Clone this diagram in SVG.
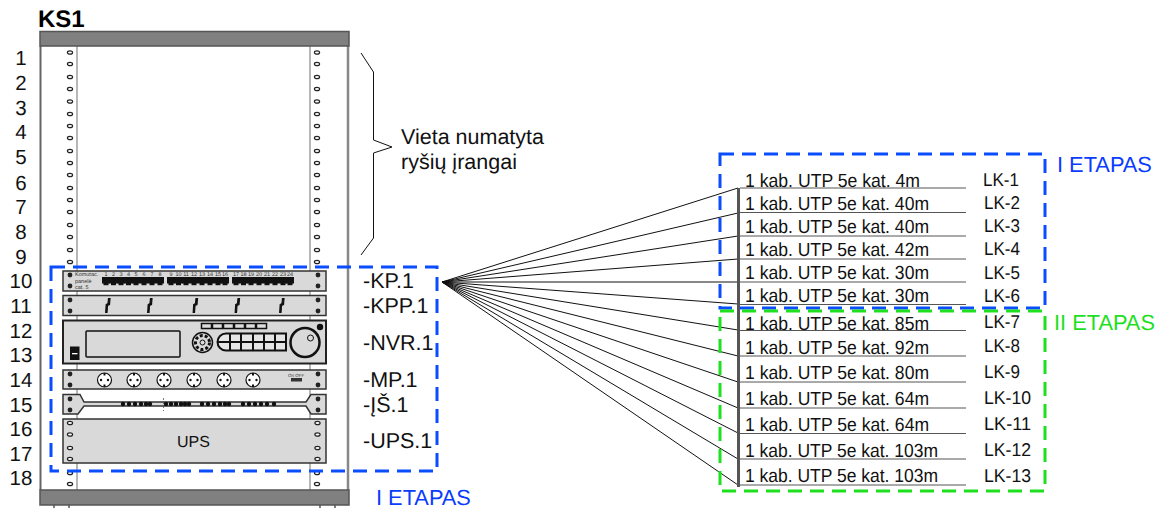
<svg xmlns="http://www.w3.org/2000/svg" xmlns:xlink="http://www.w3.org/1999/xlink" width="1171" height="508" viewBox="0 0 1171 508">
<style>
text{font-family:"Liberation Sans",Arial,sans-serif;fill:#111;text-rendering:geometricPrecision}
.n{font-size:20.5px;text-anchor:middle}
.l{font-size:21.5px}
.e{font-size:21.8px;fill:#0a3cff}
.c{font-size:19px}
.k{font-size:18.5px}
.t{font-size:5.5px;fill:#333}
.d{fill:#d9d9d9;stroke:#333;stroke-width:1.5}
.h{fill:#fff;stroke:#222;stroke-width:1.2}
.s{fill:#222}
.w{fill:none;stroke:#111;stroke-width:1.5}
.f{fill:none;stroke:#111;stroke-width:1}
.b{fill:none;stroke:#0a4dff;stroke-width:3;stroke-dasharray:14 8}
.g{fill:none;stroke:#1ee01e;stroke-width:3;stroke-dasharray:14 8}
</style>
<defs>
<ellipse id="hole" class="h" rx="2.6" ry="1.7"/>
<circle id="screw" class="s" r="2.4"/>
<g id="port"><rect x="-4" y="0" width="8" height="6.5" fill="#111"/><rect x="-2.500" y="6" width="5" height="2.200" fill="#111"/></g>
<g id="outlet"><circle r="7" fill="#fff" stroke="#111" stroke-width="1.2"/><circle cx="-3.5" cy="0" r="1.2" fill="#111"/><circle cx="3.5" r="1.2" fill="#111"/><rect x="-1" y="-7" width="2" height="2.5" fill="#111"/><rect x="-1" y="4.5" width="2" height="2.5" fill="#111"/></g>
<path id="sq" d="M0-7L1.500-7L1-1L-1 0L-1.500 7L-2.800 7L-2.300-1L-.5-2Z" fill="#111" stroke="#111" stroke-width="1.200"/>
<circle id="dot" r="2.200" fill="#111"/>
</defs>

<g id="rack">
<path d="M77 46V490M310 46V490" stroke="#888" stroke-width="1.200" fill="none"/>
<path d="M40.500 46V490" stroke="#666" stroke-width="2"/>
<path d="M348 46V490" stroke="#888" stroke-width="2.500"/>
<rect x="40" y="31.500" width="309" height="14.500" fill="#808080" stroke="#555" stroke-width="1.500"/>
<rect x="40" y="490" width="309" height="15" fill="#808080" stroke="#555" stroke-width="1.500"/>
<path d="M54 505V508M69 505V508M320 505V508M335 505V508" stroke="#555" stroke-width="1.500"/>
<g id="holes">
<use xlink:href="#hole" x="70" y="52.500"/><use xlink:href="#hole" x="70" y="64"/><use xlink:href="#hole" x="70" y="77"/><use xlink:href="#hole" x="70" y="89"/><use xlink:href="#hole" x="70" y="101.500"/><use xlink:href="#hole" x="70" y="114"/><use xlink:href="#hole" x="70" y="126"/><use xlink:href="#hole" x="70" y="138"/><use xlink:href="#hole" x="70" y="151"/><use xlink:href="#hole" x="70" y="163"/><use xlink:href="#hole" x="70" y="175"/><use xlink:href="#hole" x="70" y="188"/><use xlink:href="#hole" x="70" y="200"/><use xlink:href="#hole" x="70" y="212"/><use xlink:href="#hole" x="70" y="225"/><use xlink:href="#hole" x="70" y="237"/><use xlink:href="#hole" x="70" y="250"/><use xlink:href="#hole" x="70" y="262"/><use xlink:href="#hole" x="70" y="473"/><use xlink:href="#hole" x="70" y="484"/>
<use xlink:href="#hole" x="317" y="52.500"/><use xlink:href="#hole" x="317" y="64"/><use xlink:href="#hole" x="317" y="77"/><use xlink:href="#hole" x="317" y="89"/><use xlink:href="#hole" x="317" y="101.500"/><use xlink:href="#hole" x="317" y="114"/><use xlink:href="#hole" x="317" y="126"/><use xlink:href="#hole" x="317" y="138"/><use xlink:href="#hole" x="317" y="151"/><use xlink:href="#hole" x="317" y="163"/><use xlink:href="#hole" x="317" y="175"/><use xlink:href="#hole" x="317" y="188"/><use xlink:href="#hole" x="317" y="200"/><use xlink:href="#hole" x="317" y="212"/><use xlink:href="#hole" x="317" y="225"/><use xlink:href="#hole" x="317" y="237"/><use xlink:href="#hole" x="317" y="250"/><use xlink:href="#hole" x="317" y="262"/><use xlink:href="#hole" x="317" y="473"/><use xlink:href="#hole" x="317" y="484"/>
</g>
<text x="38" y="27" font-size="24" font-weight="bold" style="fill:#000">KS1</text>
<g id="numbers">
<text class="n" x="21" y="65">1</text><text class="n" x="21" y="90">2</text><text class="n" x="21" y="115">3</text><text class="n" x="21" y="139">4</text><text class="n" x="21" y="164">5</text><text class="n" x="21" y="190">6</text><text class="n" x="21" y="214">7</text><text class="n" x="21" y="239">8</text><text class="n" x="21" y="264">9</text><text class="n" x="21" y="288">10</text><text class="n" x="21" y="313">11</text><text class="n" x="21" y="338">12</text><text class="n" x="21" y="362">13</text><text class="n" x="21" y="387">14</text><text class="n" x="21" y="412">15</text><text class="n" x="21" y="436">16</text><text class="n" x="21" y="461">17</text><text class="n" x="21" y="485">18</text>
</g>
</g>

<g id="kp">
<rect class="d" x="63" y="271" width="263" height="20"/>
<use xlink:href="#screw" x="70" y="275"/><use xlink:href="#screw" x="70" y="286"/><use xlink:href="#screw" x="318" y="275"/><use xlink:href="#screw" x="318" y="286"/>
<text class="t" x="75" y="276">Komutac.</text><text class="t" x="75" y="283">panelė</text><text class="t" x="75" y="289">cat. 5</text>
<g id="ports">
<use xlink:href="#port" x="106" y="277"/><use xlink:href="#port" x="113.500" y="277"/><use xlink:href="#port" x="121" y="277"/><use xlink:href="#port" x="128.500" y="277"/><use xlink:href="#port" x="136" y="277"/><use xlink:href="#port" x="144" y="277"/><use xlink:href="#port" x="152" y="277"/><use xlink:href="#port" x="160" y="277"/>
<use xlink:href="#port" x="171" y="277"/><use xlink:href="#port" x="178.500" y="277"/><use xlink:href="#port" x="186" y="277"/><use xlink:href="#port" x="194" y="277"/><use xlink:href="#port" x="202" y="277"/><use xlink:href="#port" x="210" y="277"/><use xlink:href="#port" x="218" y="277"/><use xlink:href="#port" x="225" y="277"/>
<use xlink:href="#port" x="236" y="277"/><use xlink:href="#port" x="243.500" y="277"/><use xlink:href="#port" x="251" y="277"/><use xlink:href="#port" x="259" y="277"/><use xlink:href="#port" x="267" y="277"/><use xlink:href="#port" x="275" y="277"/><use xlink:href="#port" x="283" y="277"/><use xlink:href="#port" x="290" y="277"/>
</g>
<g text-anchor="middle">
<text class="t" x="106" y="276">1</text><text class="t" x="113.500" y="276">2</text><text class="t" x="121" y="276">3</text><text class="t" x="128.500" y="276">4</text><text class="t" x="136" y="276">5</text><text class="t" x="144" y="276">6</text><text class="t" x="152" y="276">7</text><text class="t" x="160" y="276">8</text>
<text class="t" x="171" y="276">9</text><text class="t" x="178.500" y="276">10</text><text class="t" x="186" y="276">11</text><text class="t" x="194" y="276">12</text><text class="t" x="202" y="276">13</text><text class="t" x="210" y="276">14</text><text class="t" x="218" y="276">15</text><text class="t" x="225" y="276">16</text>
<text class="t" x="236" y="276">17</text><text class="t" x="243.500" y="276">18</text><text class="t" x="251" y="276">19</text><text class="t" x="259" y="276">20</text><text class="t" x="267" y="276">21</text><text class="t" x="275" y="276">22</text><text class="t" x="283" y="276">23</text><text class="t" x="290" y="276">24</text>
</g>
</g>

<g id="kpp">
<rect class="d" x="63" y="295.500" width="263" height="20"/>
<use xlink:href="#screw" x="70" y="300"/><use xlink:href="#screw" x="70" y="311"/><use xlink:href="#screw" x="318" y="300"/><use xlink:href="#screw" x="318" y="311"/>
<use xlink:href="#sq" x="108.500" y="305.500"/><use xlink:href="#sq" x="150.500" y="305.500"/><use xlink:href="#sq" x="196" y="305.500"/><use xlink:href="#sq" x="238" y="305.500"/><use xlink:href="#sq" x="282.500" y="305.500"/>
</g>

<g id="nvr">
<rect x="63" y="320.500" width="263" height="43" fill="#d9d9d9" stroke="#222" stroke-width="2"/>
<rect x="86" y="331" width="94" height="26" rx="1" class="w"/>
<rect x="70" y="346.500" width="9.500" height="13.500" fill="#111"/><rect x="72" y="353" width="5.500" height="1.300" fill="#fff"/>
<rect x="201.500" y="323.500" width="65" height="5" fill="#ddd" stroke="#111" stroke-width="1.500"/>
<path d="M212 323.500V328.500M223 323.500V328.500M234 323.500V328.500M245 323.500V328.500M256 323.500V328.500" stroke="#111" stroke-width="2.500"/>
<circle cx="202.500" cy="342.500" r="10" class="w"/>
<circle cx="202.500" cy="342.500" r="7" fill="none" stroke="#111" stroke-width="3" stroke-dasharray="3 2"/>
<circle cx="202.500" cy="342.500" r="2.500" class="f"/>
<path d="M226 333.500H286V350.500H226A8.500 8.500 0 0 1 226 333.500Z" fill="#e6e6e6" stroke="#111" stroke-width="2"/>
<path d="M217 342H286M230 333.500V350.500M241 333.500V350.500M253 333.500V350.500M264 333.500V350.500M275 333.500V350.500" stroke="#111" stroke-width="2" fill="none"/>
<circle cx="305" cy="342.500" r="14.500" fill="#d9d9d9" stroke="#111" stroke-width="2.500"/>
<circle cx="310.500" cy="338" r="3" class="f"/>
<circle cx="320" cy="327" r="3.200" fill="#111"/>
</g>

<g id="mp">
<rect class="d" x="63" y="370" width="263" height="19"/>
<use xlink:href="#screw" x="70" y="374"/><use xlink:href="#screw" x="70" y="385"/><use xlink:href="#screw" x="318" y="374"/><use xlink:href="#screw" x="318" y="385"/>
<use xlink:href="#outlet" x="104.500" y="380"/><use xlink:href="#outlet" x="134" y="380"/><use xlink:href="#outlet" x="164" y="380"/><use xlink:href="#outlet" x="194" y="380"/><use xlink:href="#outlet" x="224" y="380"/><use xlink:href="#outlet" x="253" y="380"/>
<text class="t" x="288" y="377" style="font-size:4.500px">On  OFF</text>
<rect x="291" y="378" width="11" height="3.500" fill="#333"/>
</g>

<g id="is">
<path class="d" d="M63 394.500H80L84 402H306L311 394.500H326V414H311L306 406H84L78 414H63Z"/>
<use xlink:href="#screw" x="70" y="399"/><use xlink:href="#screw" x="70" y="410"/><use xlink:href="#screw" x="318" y="399"/><use xlink:href="#screw" x="318" y="410"/>
<g id="is-dots">
<use xlink:href="#dot" x="123" y="404"/><use xlink:href="#dot" x="129" y="404"/><use xlink:href="#dot" x="135" y="404"/><use xlink:href="#dot" x="141" y="404"/><use xlink:href="#dot" x="146" y="404"/><use xlink:href="#dot" x="150" y="404"/>
<use xlink:href="#dot" x="166" y="404"/><use xlink:href="#dot" x="171" y="404"/><use xlink:href="#dot" x="176" y="404"/><use xlink:href="#dot" x="181" y="404"/><use xlink:href="#dot" x="185" y="404"/><use xlink:href="#dot" x="189" y="404"/>
<use xlink:href="#dot" x="202" y="404"/><use xlink:href="#dot" x="208" y="404"/><use xlink:href="#dot" x="214" y="404"/><use xlink:href="#dot" x="220" y="404"/><use xlink:href="#dot" x="225" y="404"/><use xlink:href="#dot" x="229" y="404"/>
<use xlink:href="#dot" x="243" y="404"/><use xlink:href="#dot" x="249" y="404"/><use xlink:href="#dot" x="255" y="404"/><use xlink:href="#dot" x="261" y="404"/><use xlink:href="#dot" x="267" y="404"/><use xlink:href="#dot" x="274" y="404"/>
</g>
<path d="M163.500 398V411" stroke="#555" stroke-width=".8" stroke-dasharray="2 2"/>
</g>

<g id="ups">
<rect class="d" x="63" y="419" width="263" height="44"/>
<use xlink:href="#hole" x="70" y="423"/><use xlink:href="#hole" x="70" y="434.500"/><use xlink:href="#hole" x="70" y="448"/><use xlink:href="#hole" x="70" y="459"/>
<use xlink:href="#hole" x="317.500" y="423"/><use xlink:href="#hole" x="317.500" y="434.500"/><use xlink:href="#hole" x="317.500" y="448"/><use xlink:href="#hole" x="317.500" y="459"/>
<text x="193.500" y="447" font-size="16" text-anchor="middle">UPS</text>
</g>

<g id="device-labels">
<text class="l" x="363" y="288">-KP.1</text>
<text class="l" x="363" y="313">-KPP.1</text>
<text class="l" x="363" y="350">-NVR.1</text>
<text class="l" x="363" y="387">-MP.1</text>
<text class="l" x="363" y="412">-ĮŠ.1</text>
<text class="l" x="363" y="448">-UPS.1</text>
</g>

<g id="brace">
<path class="f" d="M361 53L373.500 72V140L392 147L373.500 153V238L361 255"/>
<text x="401" y="144" font-size="21.500">Vieta numatyta</text>
<text x="401" y="169" font-size="21.500">ryšių įrangai</text>
</g>

<g id="connectors">
<path class="f" d="M442 282L738 188M442 282L738 213M442 282L738 236M442 282L738 259M442 282L738 282M442 282L738 304M442 282L738 330M442 282L738 356M442 282L738 382M442 282L738 408M442 282L738 433M442 282L738 459M442 282L738 485"/>
<path d="M738.500 188V487" stroke="#555" stroke-width="3" fill="none"/>
<path d="M740 188H966M740 212.500H966M740 236H966M740 259H966M740 282H966M740 304.500H966M740 330.500H966M740 356H966M740 382H966M740 408H966M740 433.500H966M740 459H966M740 485H966" stroke="#555" stroke-width="1" fill="none"/>
</g>

<g id="stage-boxes">
<rect class="b" x="51" y="267" width="386" height="204"/>
<rect class="b" x="720" y="154" width="325" height="154"/>
<rect class="g" x="720" y="311" width="325" height="180"/>
<text class="e" x="376" y="505">I ETAPAS</text>
<text class="e" x="1057" y="172">I ETAPAS</text>
<text class="e" x="1054" y="330" style="fill:#1ee01e">II ETAPAS</text>
</g>

<g id="cables">
<text class="c" x="745" y="186.500" textLength="175" lengthAdjust="spacingAndGlyphs">1 kab. UTP 5e kat. 4m</text>
<text class="c" x="745" y="209.500" textLength="184" lengthAdjust="spacingAndGlyphs">1 kab. UTP 5e kat. 40m</text>
<text class="c" x="745" y="232.500" textLength="184" lengthAdjust="spacingAndGlyphs">1 kab. UTP 5e kat. 40m</text>
<text class="c" x="745" y="255.500" textLength="184" lengthAdjust="spacingAndGlyphs">1 kab. UTP 5e kat. 42m</text>
<text class="c" x="745" y="279" textLength="184" lengthAdjust="spacingAndGlyphs">1 kab. UTP 5e kat. 30m</text>
<text class="c" x="745" y="302" textLength="184" lengthAdjust="spacingAndGlyphs">1 kab. UTP 5e kat. 30m</text>
<text class="c" x="745" y="330" textLength="184" lengthAdjust="spacingAndGlyphs">1 kab. UTP 5e kat. 85m</text>
<text class="c" x="745" y="353.500" textLength="184" lengthAdjust="spacingAndGlyphs">1 kab. UTP 5e kat. 92m</text>
<text class="c" x="745" y="378.500" textLength="184" lengthAdjust="spacingAndGlyphs">1 kab. UTP 5e kat. 80m</text>
<text class="c" x="745" y="404.500" textLength="184" lengthAdjust="spacingAndGlyphs">1 kab. UTP 5e kat. 64m</text>
<text class="c" x="745" y="430.500" textLength="184" lengthAdjust="spacingAndGlyphs">1 kab. UTP 5e kat. 64m</text>
<text class="c" x="745" y="456.500" textLength="193" lengthAdjust="spacingAndGlyphs">1 kab. UTP 5e kat. 103m</text>
<text class="c" x="745" y="481.500" textLength="193" lengthAdjust="spacingAndGlyphs">1 kab. UTP 5e kat. 103m</text>
<g id="lk">
<text class="k" x="983" y="186" textLength="36" lengthAdjust="spacingAndGlyphs">LK-1</text><text class="k" x="984" y="209" textLength="36" lengthAdjust="spacingAndGlyphs">LK-2</text><text class="k" x="984" y="232" textLength="36" lengthAdjust="spacingAndGlyphs">LK-3</text><text class="k" x="984" y="255" textLength="36" lengthAdjust="spacingAndGlyphs">LK-4</text><text class="k" x="984" y="279" textLength="36" lengthAdjust="spacingAndGlyphs">LK-5</text><text class="k" x="984" y="302" textLength="36" lengthAdjust="spacingAndGlyphs">LK-6</text><text class="k" x="984" y="328" textLength="36" lengthAdjust="spacingAndGlyphs">LK-7</text><text class="k" x="984" y="352" textLength="36" lengthAdjust="spacingAndGlyphs">LK-8</text><text class="k" x="984" y="378" textLength="36" lengthAdjust="spacingAndGlyphs">LK-9</text><text class="k" x="984" y="404" textLength="47" lengthAdjust="spacingAndGlyphs">LK-10</text><text class="k" x="984" y="430" textLength="47" lengthAdjust="spacingAndGlyphs">LK-11</text><text class="k" x="984" y="456" textLength="47" lengthAdjust="spacingAndGlyphs">LK-12</text><text class="k" x="984" y="482" textLength="47" lengthAdjust="spacingAndGlyphs">LK-13</text>
</g>
</g>
</svg>
